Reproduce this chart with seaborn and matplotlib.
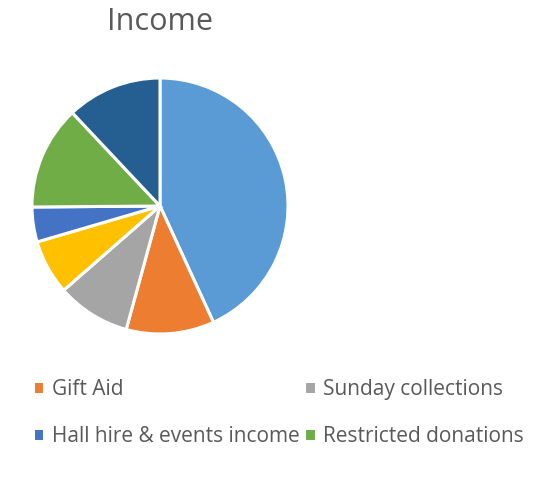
import numpy as np
import seaborn as sns
import matplotlib.pyplot as plt

sns.set_style("white")
plt.rcParams["font.family"] = ["Open Sans", "DejaVu Sans"]

# ===================== DATA =====================
categories = ["Regular giving", "Gift Aid", "Sunday collections", "Fundraising",
              "Hall hire & events income", "Restricted donations", "Other income"]
values = [43.1, 11.1, 9.3, 6.9, 4.4, 13.1, 12.0]
colors = ["#5B9BD5", "#ED7D31", "#A5A5A5", "#FFC000", "#4472C4", "#70AD47", "#255E91"]
legend_items = ["Gift Aid", "Hall hire & events income", "Sunday collections", "Restricted donations"]

# ===================== PLOT =====================
fig = plt.figure(figsize=(5.38, 4.90), dpi=100)
ax = fig.add_axes([32 / 538, (490 - 334) / 490, 256 / 538, 256 / 490])

wedges, _ = ax.pie(
    values, colors=sns.color_palette(colors), startangle=90, counterclock=False,
    wedgeprops=dict(edgecolor="white", linewidth=2.2)
)
ax.set_xlim(-1.0, 1.0)
ax.set_ylim(-1.0, 1.0)
ax.set_aspect("equal")

fig.text(160 / 538, 1 - 22 / 490, "Income", ha="center", va="center",
         fontsize=22, color="#595959")

handles = [wedges[categories.index(c)] for c in legend_items]
fig.legend(
    handles, legend_items, ncol=2, loc="upper left",
    bbox_to_anchor=(14 / 538, 1 - 360 / 490), frameon=False,
    fontsize=15, labelcolor="#595959",
    handlelength=0.55, handleheight=0.55, handletextpad=0.35,
    columnspacing=0.25, labelspacing=1.25,
)

plt.savefig("out.png", dpi=100)
